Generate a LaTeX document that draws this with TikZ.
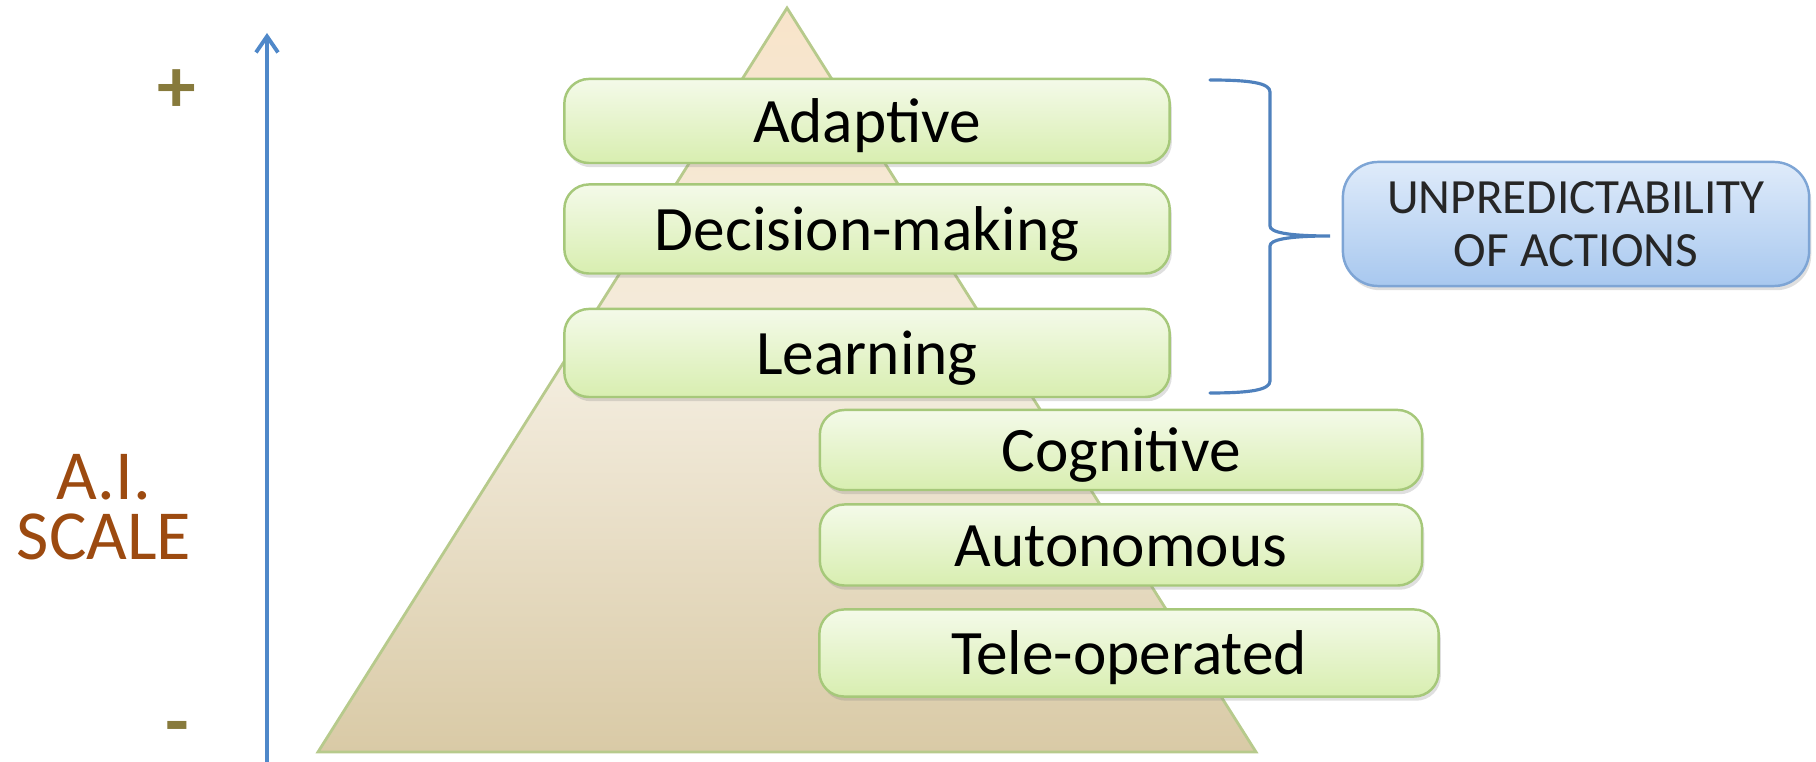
\documentclass[tikz,border=0pt]{standalone}
\usepackage{fontspec}
\setmainfont{Carlito}
\usepackage{tikz}
\usetikzlibrary{arrows.meta, calc, shadows}
\definecolor{scaleBrown}{HTML}{9C4A10}
\definecolor{signOlive}{HTML}{877A3C}
\definecolor{axisBlue}{HTML}{4F88C9}
\definecolor{braceBlue}{HTML}{4F81BD}
\definecolor{levelTop}{HTML}{F4FAE9}
\definecolor{levelBottom}{HTML}{D8EEB0}
\definecolor{levelEdge}{HTML}{A6C87A}
\definecolor{pyrTop}{HTML}{F8E4CA}
\definecolor{pyrMid}{HTML}{F3ECDD}
\definecolor{pyrBottom}{HTML}{D9CAA6}
\definecolor{pyrEdge}{HTML}{B7CA8C}
\definecolor{noteTop}{HTML}{DFEBFA}
\definecolor{noteBottom}{HTML}{A8C8EF}
\definecolor{noteEdge}{HTML}{7EA5D5}

\begin{document}
\begin{tikzpicture}[x=0.01cm, y=-0.01cm, style={line cap=round},
  levelbox/.style={draw=levelEdge, line width=0.7pt, rounded corners=7pt,
    top color=levelTop, bottom color=levelBottom, minimum width=6.05cm,
    minimum height=0.84cm, font=\fontsize{18}{20}\selectfont,
    text height=16pt, text depth=4pt, inner ysep=0pt,
    drop shadow={shadow xshift=0.6pt, shadow yshift=-1.2pt, opacity=0.25}},
  notebox/.style={draw=noteEdge, line width=0.7pt, rounded corners=10pt,
    top color=noteTop, bottom color=noteBottom, minimum width=4.66cm,
    minimum height=1.24cm, align=center, text=black!85,
    font=\fontsize{14}{15}\selectfont,
    drop shadow={shadow xshift=0.6pt, shadow yshift=-1.2pt, opacity=0.25}},
  sign/.style={signOlive, font=\fontsize{22}{22}\selectfont\bfseries},
  scaletext/.style={scaleBrown, font=\fontsize{20}{20}\selectfont, inner sep=0pt}]
  \useasboundingbox (0,0) rectangle (1816,762);

  % pyramid behind the levels
  \coordinate (apex) at (787,8);
  \coordinate (baseL) at (318,752);
  \coordinate (baseR) at (1256,752);
  \path[draw=pyrEdge, line width=0.8pt, top color=pyrTop, bottom color=pyrBottom, middle color=pyrMid]
    (apex) -- (baseL) -- (baseR) -- cycle;

  % scale axis
  \coordinate (axbot) at (267,762);
  \coordinate (axtop) at (267,33);
  \draw[axisBlue, line width=1.1pt, -{Straight Barb[length=1.6mm, width=2.2mm]}] (axbot) -- (axtop);
  \node[sign] (plus) at (177,91) {+};
  \node[sign] (minus) at (177,734) {-};
  \node[scaletext] (ailabel) at (104,477) {A.I.};
  \node[scaletext] (scalelabel) at (104,537) {SCALE};

  % levels
  \node[levelbox] (adaptive) at (867,121) {Adaptive};
  \node[levelbox, minimum height=0.89cm] (decision) at (867,229) {Decision-making};
  \node[levelbox, minimum height=0.88cm] (learning) at (867,353) {Learning};
  \node[levelbox, minimum width=6.02cm, minimum height=0.80cm] (cognitive) at (1121,450) {Cognitive};
  \node[levelbox, minimum width=6.02cm, minimum height=0.81cm] (autonomous) at (1121,545) {Autonomous};
  \node[levelbox, minimum width=6.19cm, minimum height=0.87cm] (teleop) at (1129,653) {Tele-operated};

  % brace and note
  \draw[braceBlue, line width=0.9pt] (1210,80) .. controls (1250,80) and (1270,83) .. (1270,92)
    -- (1270,226) .. controls (1270,232) and (1286,236) .. (1330,236)
    .. controls (1286,236) and (1270,240) .. (1270,246)
    -- (1270,381) .. controls (1270,390) and (1250,393) .. (1210,393);
  \node[notebox] (unpredict) at (1576,224) {UNPREDICTABILITY\\OF ACTIONS};
\end{tikzpicture}
\end{document}
